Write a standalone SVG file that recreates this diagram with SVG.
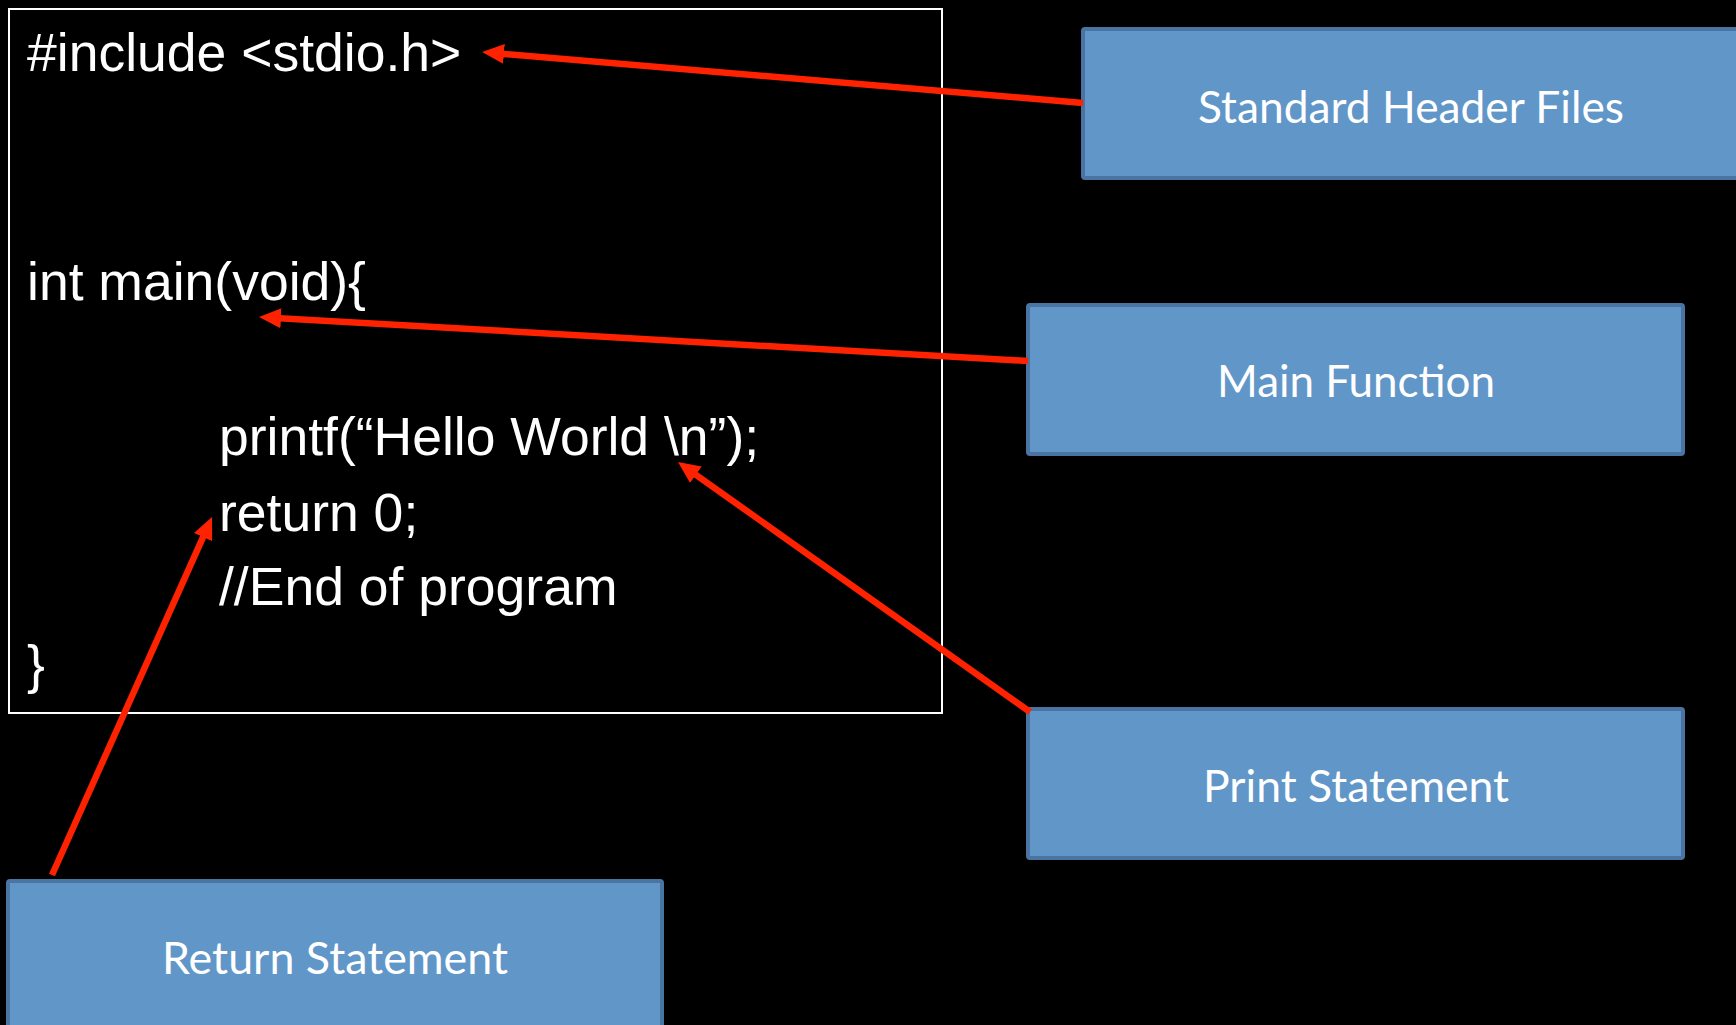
<svg xmlns="http://www.w3.org/2000/svg" width="1736" height="1025" viewBox="0 0 1736 1025">
  <style>
    .code { font-family: "Liberation Sans", Arial, sans-serif; font-size: 53.5px; fill: #ffffff; }
    .box { fill: #6196c8; stroke: #4a74a2; stroke-width: 4; }
    .lbl { font-family: Lato, "Open Sans", sans-serif; font-size: 44px; fill: #ffffff; text-anchor: middle; }
    .arrow { stroke: #ff2200; stroke-width: 6.5; fill: none; marker-end: url(#ah); }
  </style>
  <defs>
    <marker id="ah" markerUnits="userSpaceOnUse" viewBox="0 0 22 20" markerWidth="22" markerHeight="20" refX="6" refY="10" orient="auto">
      <path d="M0,0 L22,10 L0,20 z" fill="#ff2200"/>
    </marker>
  </defs>
  <rect x="0" y="0" width="1736" height="1025" fill="#000000"/>

  <g id="code">
    <rect x="9" y="9" width="933" height="704" fill="none" stroke="#ffffff" stroke-width="2"/>
    <text class="code" x="27" y="71">#include &lt;stdio.h&gt;</text>
    <text class="code" x="27" y="300">int main(void){</text>
    <text class="code" x="219" y="455">printf(“Hello World \n”);</text>
    <text class="code" x="219" y="531">return 0;</text>
    <text class="code" x="219" y="605">//End of program</text>
    <text class="code" x="27" y="683">}</text>
  </g>

  <g id="node-header">
    <rect class="box" x="1083" y="29" width="670" height="149" rx="2"/>
    <text class="lbl" x="1411" y="123" textLength="426" lengthAdjust="spacingAndGlyphs">Standard Header Files</text>
  </g>
  <g id="node-main">
    <rect class="box" x="1028" y="305" width="655" height="149" rx="2"/>
    <text class="lbl" x="1356" y="397" textLength="278" lengthAdjust="spacingAndGlyphs">Main Function</text>
  </g>
  <g id="node-print">
    <rect class="box" x="1028" y="709" width="655" height="149" rx="2"/>
    <text class="lbl" x="1356" y="802" textLength="306" lengthAdjust="spacingAndGlyphs">Print Statement</text>
  </g>
  <g id="node-return">
    <rect class="box" x="8" y="881" width="654" height="160" rx="2"/>
    <text class="lbl" x="335" y="974" textLength="346" lengthAdjust="spacingAndGlyphs">Return Statement</text>
  </g>

  <g id="connectors">
    <line class="arrow" x1="1083" y1="103" x2="498" y2="53.4"/>
    <line class="arrow" x1="1028" y1="361" x2="275" y2="317.9"/>
    <line class="arrow" x1="1030" y1="712" x2="691" y2="471.3"/>
    <line class="arrow" x1="52" y1="875" x2="205.5" y2="531.6"/>
  </g>
</svg>
